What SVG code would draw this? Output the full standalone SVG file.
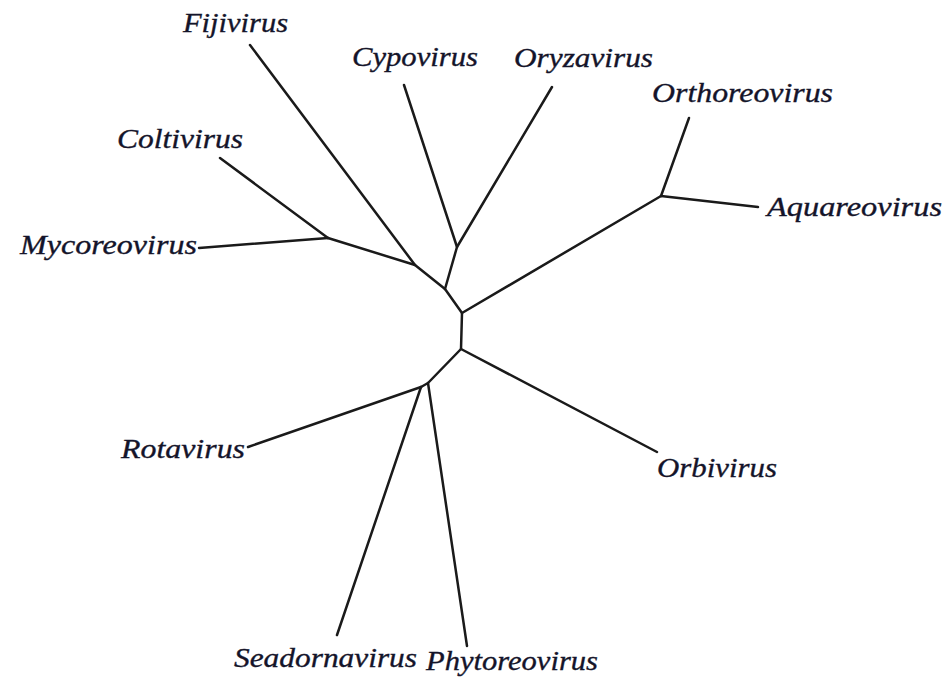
<svg xmlns="http://www.w3.org/2000/svg" width="951" height="679" viewBox="0 0 951 679">
<style>
.lbl{font-family:"Liberation Serif","Times New Roman",serif;font-style:italic;font-size:28px;fill:#14142a;stroke:#14142a;stroke-width:0.35}
.br{stroke:#1a1a1a;stroke-width:2.5;fill:none;stroke-linecap:round;stroke-linejoin:round}
</style>
<rect width="951" height="679" fill="#ffffff"/>
<g id="connectors">
<polyline class="br" points="250,45 415,265 445,289 462,313 461,349 428,383 421,387"/>
<line class="br" x1="328" y1="238" x2="415" y2="265"/>
<line class="br" x1="328" y1="238" x2="220" y2="158"/>
<line class="br" x1="328" y1="238" x2="199" y2="248"/>
<polyline class="br" points="404,85 457,247 445,289"/>
<line class="br" x1="457" y1="247" x2="552" y2="87"/>
<line class="br" x1="462" y1="313" x2="661" y2="196"/>
<line class="br" x1="661" y1="196" x2="689" y2="118"/>
<line class="br" x1="661" y1="196" x2="758" y2="207"/>
<line class="br" x1="461" y1="349" x2="657" y2="452"/>
<line class="br" x1="421" y1="387" x2="248" y2="447"/>
<line class="br" x1="421" y1="387" x2="337" y2="635"/>
<line class="br" x1="428" y1="383" x2="467" y2="646"/>
</g>
<g id="fijivirus"><text class="lbl" x="183" y="32" textLength="105" lengthAdjust="spacingAndGlyphs">Fijivirus</text></g>
<g id="cypovirus"><text class="lbl" x="352" y="66" textLength="126" lengthAdjust="spacingAndGlyphs">Cypovirus</text></g>
<g id="oryzavirus"><text class="lbl" x="514" y="67" textLength="139" lengthAdjust="spacingAndGlyphs">Oryzavirus</text></g>
<g id="orthoreovirus"><text class="lbl" x="652" y="102" textLength="181" lengthAdjust="spacingAndGlyphs">Orthoreovirus</text></g>
<g id="aquareovirus"><text class="lbl" x="767" y="216" textLength="175" lengthAdjust="spacingAndGlyphs">Aquareovirus</text></g>
<g id="coltivirus"><text class="lbl" x="117" y="148" textLength="126" lengthAdjust="spacingAndGlyphs">Coltivirus</text></g>
<g id="mycoreovirus"><text class="lbl" x="20" y="254" textLength="177" lengthAdjust="spacingAndGlyphs">Mycoreovirus</text></g>
<g id="rotavirus"><text class="lbl" x="121" y="458" textLength="124" lengthAdjust="spacingAndGlyphs">Rotavirus</text></g>
<g id="orbivirus"><text class="lbl" x="657" y="477" textLength="120" lengthAdjust="spacingAndGlyphs">Orbivirus</text></g>
<g id="seadornavirus"><text class="lbl" x="234" y="667" textLength="183" lengthAdjust="spacingAndGlyphs">Seadornavirus</text></g>
<g id="phytoreovirus"><text class="lbl" x="426" y="670" textLength="172" lengthAdjust="spacingAndGlyphs">Phytoreovirus</text></g>
</svg>
